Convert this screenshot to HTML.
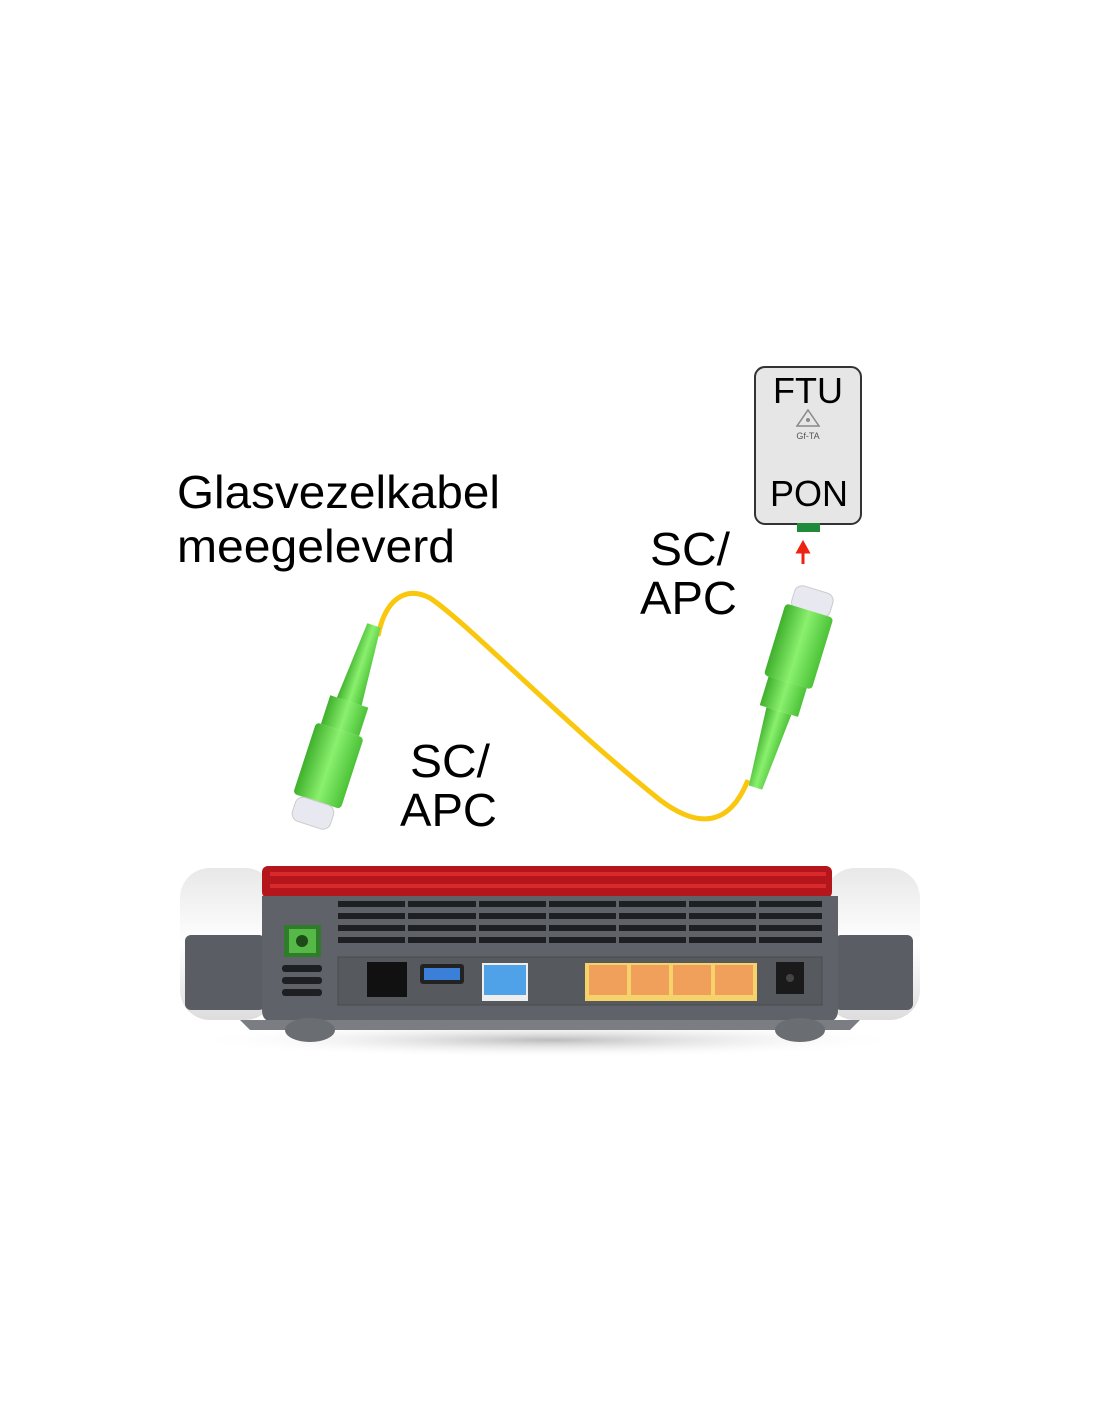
<!DOCTYPE html>
<html><head><meta charset="utf-8"><style>
html,body{margin:0;padding:0;background:#fff;}
svg{display:block}
text{font-family:"Liberation Sans",Arial,sans-serif;}
</style></head><body>
<svg width="1100" height="1422" viewBox="0 0 1100 1422" xmlns="http://www.w3.org/2000/svg">
<defs>
<linearGradient id="wh" x1="0" y1="0" x2="0" y2="1"><stop offset="0" stop-color="#e8e8e8"/><stop offset="0.5" stop-color="#fff"/><stop offset="1" stop-color="#ddd"/></linearGradient>
<linearGradient id="gr" x1="0" y1="0" x2="1" y2="0"><stop offset="0" stop-color="#3fb02c"/><stop offset="0.5" stop-color="#8af06e"/><stop offset="1" stop-color="#4cc238"/></linearGradient>
<radialGradient id="sh" cx="0.5" cy="0.5" r="0.5"><stop offset="0" stop-color="#bbb"/><stop offset="1" stop-color="#fff" stop-opacity="0"/></radialGradient>
</defs>
<text x="177" y="508" font-size="46" textLength="323" lengthAdjust="spacingAndGlyphs">Glasvezelkabel</text>
<text x="177" y="562" font-size="46" textLength="278" lengthAdjust="spacingAndGlyphs">meegeleverd</text>
<text x="650" y="565" font-size="46" textLength="80" lengthAdjust="spacingAndGlyphs">SC/</text>
<text x="640" y="614" font-size="46" textLength="97" lengthAdjust="spacingAndGlyphs">APC</text>
<text x="410" y="777" font-size="46" textLength="80" lengthAdjust="spacingAndGlyphs">SC/</text>
<text x="400" y="826" font-size="46" textLength="97" lengthAdjust="spacingAndGlyphs">APC</text>
<rect x="755" y="367" width="106" height="157" rx="10" fill="#e6e6e6" stroke="#333" stroke-width="2"/>
<text x="808" y="403" font-size="36" text-anchor="middle">FTU</text>
<path d="M808 410 L819 426 L797 426 Z" fill="none" stroke="#888" stroke-width="1.5"/>
<circle cx="808" cy="420" r="2" fill="#888"/>
<text x="808" y="439" font-size="9" text-anchor="middle" fill="#555">Gf-TA</text>
<text x="809" y="506" font-size="36" text-anchor="middle">PON</text>
<rect x="797" y="523" width="23" height="9" fill="#1f8a3a"/>
<path d="M803 564 L803 550 M798 552 L803 543 L808 552 Z" stroke="#e21" stroke-width="3" fill="#e21"/>
<path d="M378 636 C385 600 405 585 430 598 C470 625 560 720 660 800 C700 830 730 825 748 780" fill="none" stroke="#f9c80e" stroke-width="5"/>
<g transform="rotate(18 340 730)">
<path d="M333 620 L347 620 L353 700 L327 700 Z" fill="url(#gr)"/>
<rect x="320" y="700" width="40" height="30" fill="url(#gr)"/>
<rect x="315" y="730" width="50" height="75" rx="4" fill="url(#gr)"/>
<rect x="320" y="805" width="40" height="25" rx="8" fill="#e8e8f0" stroke="#ccc"/>
</g>
<g transform="rotate(17 780 680)">
<rect x="768" y="583" width="40" height="25" rx="8" fill="#e8e8f0" stroke="#ccc"/>
<rect x="763" y="605" width="50" height="75" rx="4" fill="url(#gr)"/>
<rect x="768" y="680" width="40" height="30" fill="url(#gr)"/>
<path d="M775 710 L801 710 L795 790 L781 790 Z" fill="url(#gr)"/>
</g>
<ellipse cx="550" cy="1040" rx="360" ry="18" fill="url(#sh)"/>
<rect x="180" y="868" width="95" height="152" rx="30" fill="url(#wh)"/>
<rect x="825" y="868" width="95" height="152" rx="30" fill="url(#wh)"/>
<rect x="185" y="935" width="80" height="75" rx="6" fill="#5a5d63"/>
<rect x="835" y="935" width="78" height="75" rx="6" fill="#5a5d63"/>
<rect x="262" y="866" width="570" height="32" rx="6" fill="#b5161b"/>
<rect x="270" y="872" width="556" height="4" fill="#d82a2d"/>
<rect x="270" y="884" width="556" height="4" fill="#d82a2d"/>
<path d="M262 896 L838 896 L838 1010 Q838 1022 826 1022 L274 1022 Q262 1022 262 1010 Z" fill="#5f6268"/>
<path d="M240 1020 L860 1020 L850 1030 L250 1030 Z" fill="#7a7d82"/>
<ellipse cx="310" cy="1030" rx="25" ry="12" fill="#6a6d72"/>
<ellipse cx="800" cy="1030" rx="25" ry="12" fill="#6a6d72"/>
<g fill="#1e1f22">
<rect x="338" y="901" width="484" height="6"/><rect x="338" y="913" width="484" height="6"/><rect x="338" y="925" width="484" height="6"/><rect x="338" y="937" width="484" height="6"/>
</g>
<g fill="#5f6268"><rect x="405" y="900" width="3" height="45"/><rect x="476" y="900" width="3" height="45"/><rect x="546" y="900" width="3" height="45"/><rect x="616" y="900" width="3" height="45"/><rect x="686" y="900" width="3" height="45"/><rect x="756" y="900" width="3" height="45"/></g>
<rect x="284" y="925" width="37" height="32" fill="#2f7d2a"/>
<rect x="289" y="929" width="27" height="24" fill="#56b947"/>
<circle cx="302" cy="941" r="6" fill="#1d4a18"/>
<rect x="282" y="965" width="40" height="7" rx="3" fill="#1e1f22"/><rect x="282" y="977" width="40" height="7" rx="3" fill="#1e1f22"/><rect x="282" y="989" width="40" height="7" rx="3" fill="#1e1f22"/>
<rect x="338" y="957" width="484" height="48" fill="#56595e" stroke="#4a4c50"/>
<rect x="367" y="962" width="40" height="35" fill="#111"/>
<rect x="420" y="964" width="44" height="20" rx="3" fill="#222"/><rect x="424" y="968" width="36" height="12" fill="#3a7fd8"/>
<rect x="482" y="963" width="46" height="38" fill="#eee"/><rect x="484" y="965" width="42" height="30" fill="#4fa1e8"/>
<rect x="585" y="963" width="172" height="38" fill="#f6d36a"/>
<rect x="589" y="965" width="38" height="30" fill="#f0a05a"/><rect x="631" y="965" width="38" height="30" fill="#f0a05a"/><rect x="673" y="965" width="38" height="30" fill="#f0a05a"/><rect x="715" y="965" width="38" height="30" fill="#f0a05a"/>
<rect x="776" y="962" width="28" height="32" fill="#1a1a1a"/><circle cx="790" cy="978" r="4" fill="#444"/>
</svg>
</body></html>
